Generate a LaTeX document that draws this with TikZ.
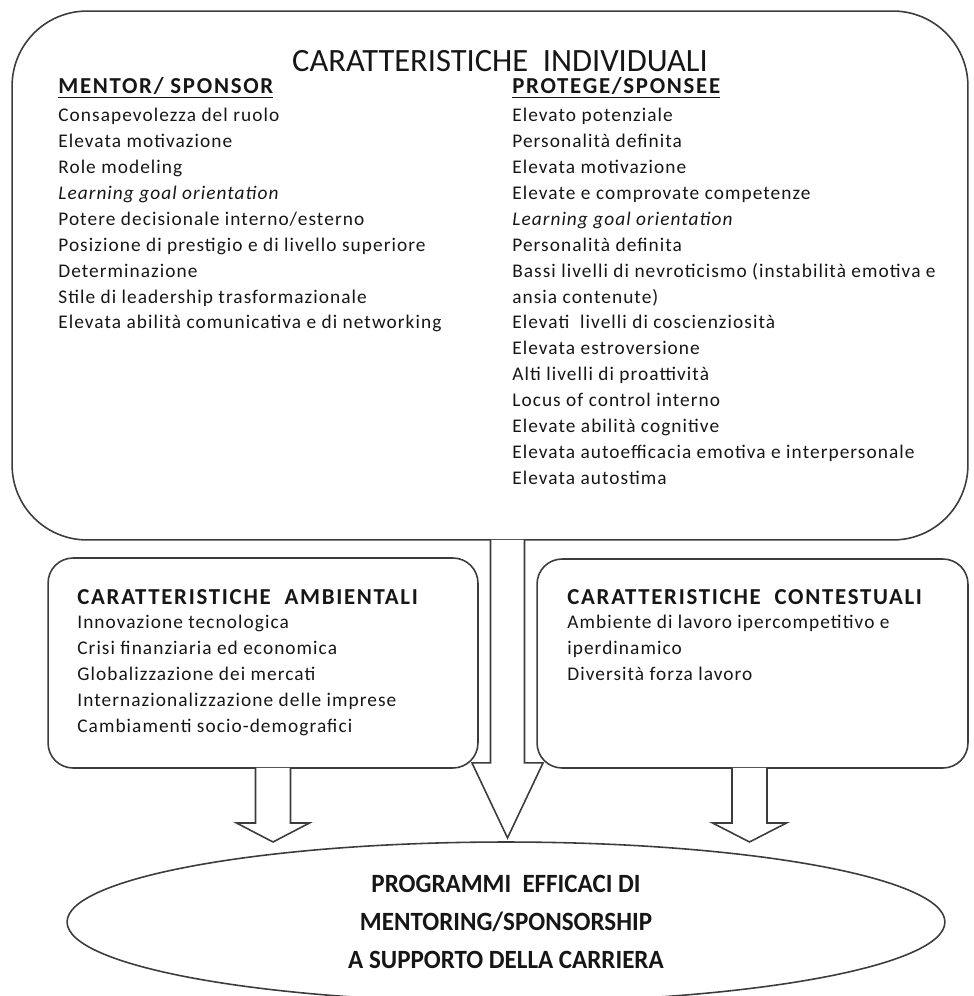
\documentclass[tikz,border=0pt]{standalone}
\usepackage{fontspec}
\setmainfont{Carlito}
\newfontfamily\spreadfont[LetterSpace=5.5]{Carlito}
\newfontfamily\headfont[LetterSpace=7.5]{Carlito}
\newfontfamily\narrowfont[FakeStretch=0.95]{Carlito}
\usetikzlibrary{calc,shapes.geometric}

\definecolor{linegray}{HTML}{3C3C3C}
\definecolor{inkgray}{HTML}{161616}

\tikzset{
  panel/.style={draw=linegray, line width=0.9pt, inner sep=0pt, outer sep=0pt},
  hollow/.style={draw=linegray, line width=0.9pt, fill=white, line join=miter},
  bigtitle/.style={text=inkgray, inner sep=0pt, font=\fontsize{18.5}{20}\selectfont},
  colhead/.style={text=inkgray, inner sep=0pt, anchor=base west, font=\headfont\fontsize{13}{15}\selectfont\bfseries},
  itemlist/.style={text=inkgray, inner sep=0pt, anchor=north west, align=left, font=\spreadfont\fontsize{11}{14.74}\selectfont},
}

\begin{document}
\begin{tikzpicture}[x=0.02cm, y=-0.02cm]
  \useasboundingbox (0,0) rectangle (973,996);

  % the three boxes and the ellipse
  \node[panel, rounded corners=1.5cm, minimum width=19.12cm, minimum height=10.58cm] (ind) at (490,275.5) {};
  \node[panel, rounded corners=0.5cm, minimum width=8.6cm, minimum height=4.2cm] (amb) at (263,663) {};
  \node[panel, rounded corners=0.5cm, minimum width=8.62cm, minimum height=4.18cm] (cont) at (752.5,663.5) {};
  \node[panel, ellipse, minimum width=17.56cm, minimum height=3.2cm, align=center, text=inkgray,
        font=\narrowfont\fontsize{15}{21.6}\selectfont\bfseries] (prog) at (506,922)
        {PROGRAMMI~~EFFICACI DI\\MENTORING/SPONSORSHIP\\A SUPPORTO DELLA CARRIERA};

  % individual characteristics
  \node[bigtitle] (indtitle) at (500,61) {CARATTERISTICHE~~INDIVIDUALI};
  \node[colhead] (mentorhead) at (58,94) {\underline{MENTOR/ SPONSOR}};
  \node[colhead] (protegehead) at (512,94) {\underline{PROTEGE/SPONSEE}};
  \node[itemlist] (mentorlist) at (58,108) {Consapevolezza del ruolo\\
    Elevata motivazione\\
    Role modeling\\
    \textit{Learning goal orientation}\\
    Potere decisionale interno/esterno\\
    Posizione di prestigio e di livello superiore\\
    Determinazione\\
    Stile di leadership trasformazionale\\
    Elevata abilità comunicativa e di networking};
  \node[itemlist] (protegelist) at (512,108) {Elevato potenziale\\
    Personalità definita\\
    Elevata motivazione\\
    Elevate e comprovate competenze\\
    \textit{Learning goal orientation}\\
    Personalità definita\\
    Bassi livelli di nevroticismo (instabilità emotiva e\\
    ansia contenute)\\
    Elevati~~livelli di coscienziosità\\
    Elevata estroversione\\
    Alti livelli di proattività\\
    Locus of control interno\\
    Elevate abilità cognitive\\
    Elevata autoefficacia emotiva e interpersonale\\
    Elevata autostima};

  % environmental and contextual characteristics
  \node[colhead] (ambtitle) at (77,604) {CARATTERISTICHE~~AMBIENTALI};
  \node[itemlist] (amblist) at (77,615) {Innovazione tecnologica\\
    Crisi finanziaria ed economica\\
    Globalizzazione dei mercati\\
    Internazionalizzazione delle imprese\\
    Cambiamenti socio-demografici};
  \node[colhead] (conttitle) at (567,604) {CARATTERISTICHE~~CONTESTUALI};
  \node[itemlist] (contlist) at (567,615) {Ambiente di lavoro ipercompetitivo e\\
    iperdinamico\\
    Diversità forza lavoro};

  % block arrows
  \draw[hollow, shift={($(ind.south)+(17.5,0)$)}] (-17,0) -- (-17,223) -- (-35.5,223) -- (0,298)
    -- (35.5,223) -- (17,223) -- (17,0);
  \draw[hollow, shift={($(amb.south)+(10,0)$)}] (-17.5,0) -- (-17.5,55) -- (-36.5,55) -- (0,74)
    -- (36.5,55) -- (17.5,55) -- (17.5,0);
  \draw[hollow, shift={($(cont.south)+(-3,0)$)}] (-17.5,0) -- (-17.5,55) -- (-37,55) -- (0,74)
    -- (37,55) -- (17.5,55) -- (17.5,0);
\end{tikzpicture}
\end{document}
